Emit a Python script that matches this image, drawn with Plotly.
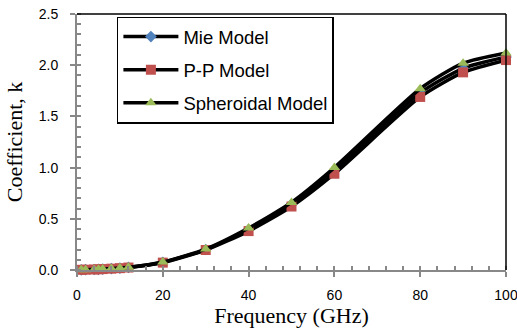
import plotly.graph_objects as go

freq = [1, 2, 4, 5, 6, 8, 10, 12, 20, 30, 40, 50, 60, 80, 90, 100]
mie = [0.002, 0.003, 0.005, 0.007, 0.009, 0.013, 0.018, 0.025, 0.075, 0.2, 0.395, 0.64, 0.97, 1.73, 1.97, 2.08]
pp = [0.002, 0.003, 0.005, 0.007, 0.009, 0.013, 0.018, 0.024, 0.072, 0.195, 0.38, 0.62, 0.94, 1.69, 1.93, 2.05]
sph = [0.002, 0.003, 0.005, 0.007, 0.009, 0.014, 0.019, 0.026, 0.078, 0.205, 0.41, 0.66, 1.0, 1.77, 2.02, 2.12]

names = ["Mie Model", "P-P Model", "Spheroidal Model"]
series = [mie, pp, sph]
symbols = ["diamond", "square", "triangle-up"]
colors = ["#4F81BD", "#C0504D", "#9BBB59"]

fig = go.Figure()
for i, (n, ys, s, c) in enumerate(zip(names, series, symbols, colors)):
    fig.add_trace(go.Scatter(
        x=freq, y=ys, name=n, mode="lines+markers",
        line=dict(color="black", width=3.5, shape="spline", smoothing=0.6),
        marker=dict(symbol=s, color=c, size=10 if s != "diamond" else 9,
                    line=dict(width=0)),
        legendgroup=f"g{i}",
        cliponaxis=False,
    ))

fig.update_layout(
    width=517, height=334,
    margin=dict(l=77, r=11, t=14, b=64, autoexpand=False),
    paper_bgcolor="white", plot_bgcolor="white",
    showlegend=True,
    legend=dict(x=0.093, y=0.99, xanchor="left", yanchor="top",
                bordercolor="black", borderwidth=1.5, bgcolor="white",
                font=dict(family="Liberation Sans", size=18.5, color="black"),
                traceorder="grouped", tracegroupgap=6, itemwidth=55),
    shapes=[
        dict(type="line", xref="paper", yref="paper", x0=0, x1=1, y0=1, y1=1,
             line=dict(color="black", width=1.5)),
        dict(type="line", xref="paper", yref="paper", x0=1, x1=1, y0=0, y1=1,
             line=dict(color="black", width=1.5)),
    ],
)
fig.update_xaxes(
    range=[0, 100], tickvals=[0, 20, 40, 60, 80, 100],
    showgrid=False, zeroline=False, automargin=False,
    showline=True, linecolor="#888888", linewidth=2,
    ticks="outside", ticklen=5, tickcolor="#888888", tickwidth=1.5,
    ticklabelstandoff=6, ticklabeloverflow="allow",
    minor=dict(dtick=4, ticks="inside", ticklen=4, tickcolor="#888888", tickwidth=1.5, showgrid=False),
    tickfont=dict(family="Liberation Sans", size=14, color="black"),
    title=dict(text="Frequency (GHz)", font=dict(family="Liberation Serif", size=22, color="black"), standoff=6),
)
fig.update_yaxes(
    range=[0, 2.5], tickvals=[0, 0.5, 1.0, 1.5, 2.0, 2.5], ticktext=["0.0", "0.5", "1.0", "1.5", "2.0", "2.5"],
    showgrid=False, zeroline=False, automargin=False,
    showline=True, linecolor="#888888", linewidth=2,
    ticks="outside", ticklen=5, tickcolor="#888888", tickwidth=1.5,
    ticklabelstandoff=9, ticklabeloverflow="allow",
    minor=dict(dtick=0.1, ticks="inside", ticklen=4, tickcolor="#888888", tickwidth=1.5, showgrid=False),
    tickfont=dict(family="Liberation Sans", size=14, color="black"),
    title=dict(text="Coefficient, k", font=dict(family="Liberation Serif", size=22, color="black"), standoff=10),
)

fig.write_html("out.html")
